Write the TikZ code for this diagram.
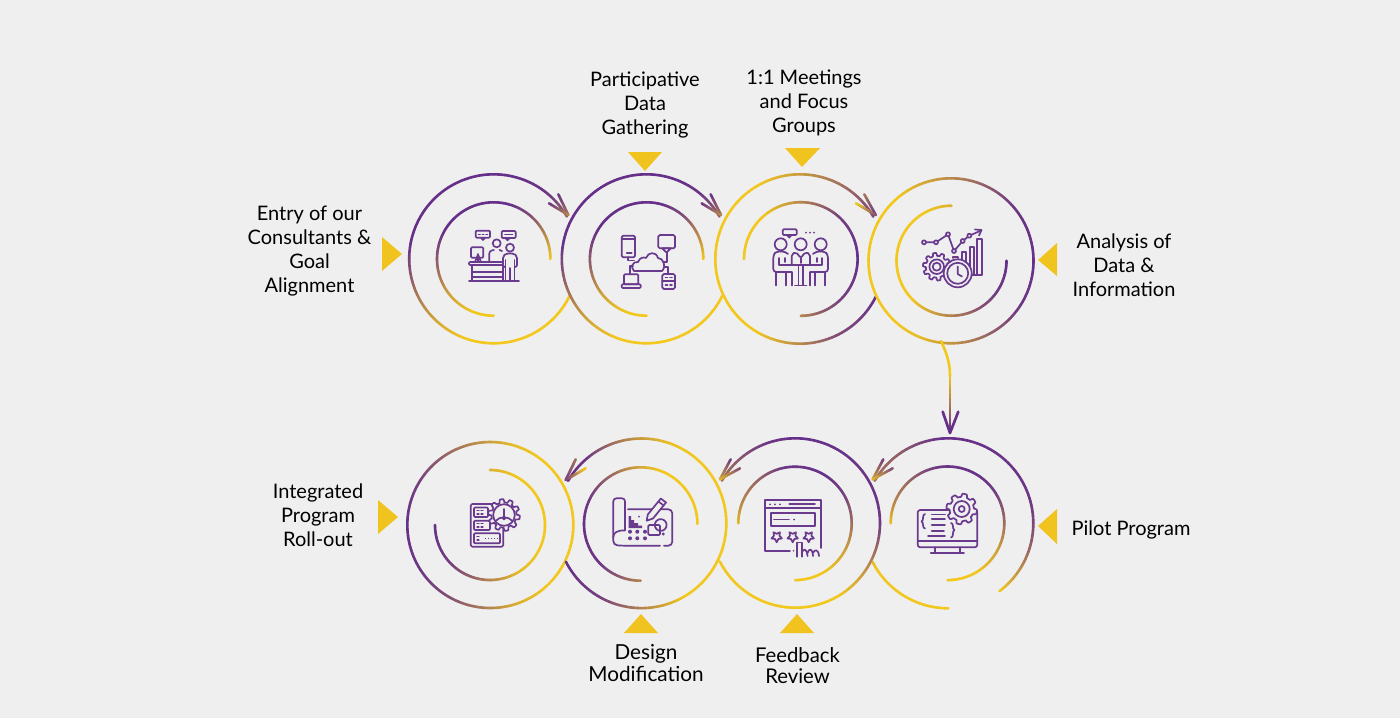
\documentclass[tikz,border=0pt]{standalone}
\usepackage{fontspec}
\setmainfont{Lato}
\definecolor{bgc}{HTML}{EFEFEF}
\definecolor{pc}{HTML}{66308A}
\definecolor{yc}{HTML}{F2C81E}
\definecolor{tric}{HTML}{F0C31E}
\definecolor{icc}{HTML}{6A3A8E}
\newcommand\arcseg[7]{%
  \pgfmathtruncatemacro\nseg{max(1,ceil(abs(#6-#4)/2.5))}%
  \foreach \k in {1,...,\nseg}{%
    \pgfmathsetmacro\aa{#4+(#6-#4)*(\k-1)/\nseg}%
    \pgfmathsetmacro\ab{#4+(#6-#4)*\k/\nseg}%
    \pgfmathsetmacro\tm{100*(#5+(#7-#5)*(\k-.5)/\nseg)}%
    \draw[ring,color=yc!\tm!pc] ({#1+#3*cos(\aa)},{#2-#3*sin(\aa)}) -- ({#1+#3*cos(\ab)},{#2-#3*sin(\ab)});
  }}
\newcommand\garc[4]{%
  \gdef\arcfirst{1}%
  \foreach \sa/\st in {#4}{%
    \ifnum\arcfirst=1\else\arcseg{#1}{#2}{#3}{\preva}{\prevt}{\sa}{\st}\fi
    \xdef\preva{\sa}\xdef\prevt{\st}\gdef\arcfirst{0}%
  }}
\newcommand\gline[6]{%
  \foreach \k in {1,...,12}{%
    \pgfmathsetmacro\tm{100*(#5+(#6-#5)*(\k-.5)/12)}%
    \draw[ring,color=yc!\tm!pc] ({#1+(#3-#1)*(\k-1)/12},{#2+(#4-#2)*(\k-1)/12}) -- ({#1+(#3-#1)*\k/12},{#2+(#4-#2)*\k/12});
  }}
\newcommand\geartooth[5]{% cx cy radius amplitude teeth
  \draw[iconl,fill=bgc] plot[domain=0:360,samples=145] ({#1+(#3+#4*max(-1,min(1,2.5*sin(#5*\x))))*cos(\x)},{#2+(#3+#4*max(-1,min(1,2.5*sin(#5*\x))))*sin(\x)}) -- cycle;}
\tikzset{
  ring/.style={line width=2.6pt,line cap=round},
  iconl/.style={draw=icc,line width=1.7pt,line join=round,line cap=round},
  iconf/.style={fill=icc},
  tri/.style={fill=tric},
  lab/.style={font=\fontsize{20}{24}\selectfont,align=center,text=black,inner sep=0pt},
}
\begin{document}
\begin{tikzpicture}[x=1pt,y=-1pt]
\fill[bgc] (0,0) rectangle (1400,718);
\useasboundingbox (0,0) rectangle (1400,718);

% ===== top row =====
% circle 1
\garc{493.7}{258.8}{84.5}{30/.35,50/.05,70/0,170/0,195/.3,225/.75,250/1,334/1}
\garc{493.7}{259}{56.7}{0/1,25/.6,50/.2,75/0,150/0,185/.3,220/.75,250/1,270/1}
\gline{568.3}{215}{558.3}{194.3}{.45}{.05}
\gline{568.3}{215}{549}{203.3}{.6}{.05}
% circle 2
\garc{646.3}{258.8}{84.5}{30/.35,50/.05,70/0,170/0,195/.3,225/.75,250/1,334/1}
\garc{646.6}{259}{56.7}{0/1,25/.6,50/.2,75/0,150/0,185/.3,220/.75,250/1,270/1}
\gline{721}{215}{710.6}{194.3}{.45}{.05}
\gline{721}{215}{701.6}{203.3}{.6}{.05}
% circle 3
\garc{800}{259}{84.7}{30/.15,60/.4,90/.7,120/1,240/1,270/.6,295/.2,334/0}
\garc{800.8}{259}{56.8}{180/1,130/1,100/.7,70/.35,45/.1,0/0,-45/.1,-70/.3,-90/.55}
\gline{875.7}{215}{864.3}{194.3}{.05}{.45}
\gline{875.7}{215}{856}{203.3}{.2}{1}
% circle 4
\garc{951}{260.8}{82.5}{180/1,130/1,110/.8,90/.6,65/.3,40/.05,0/0,-35/.05,-60/.3,-85/.6,-110/.9,-130/1,-180/1}
\garc{951.5}{260.7}{55}{90/.85,120/1,225/1,255/.7,275/.5,300/.25,330/.05,360/0}

% connector from circle 4 to circle 5
\coordinate (linkstart) at (941,341);
\coordinate (linkbend) at (950,376);
\coordinate (linktip) at (950,433);
\draw[ring,color=yc] (linkstart) .. controls (946,352) and (950,362) .. (linkbend);
\gline{950}{376}{950}{433}{1}{0}
\gline{950}{433}{942.7}{411.7}{0}{0}
\gline{950}{433}{958.3}{411.7}{0}{0}

% ===== bottom row =====
% circle 8 (left)
\garc{490.3}{525}{83}{180/0,150/.1,125/.3,100/.6,75/.9,55/1,-50/1,-75/.8,-95/.5,-120/.2,-145/.05,-180/0}
\garc{490}{525}{55}{180/0,225/.1,250/.3,270/.55,300/.9,330/1,420/1,450/.85}
% circle 7
\garc{641.5}{523.3}{84.8}{150/0,130/.05,110/.4,90/.7,70/.95,50/1,-60/1,-80/.7,-100/.4,-120/.1,-153/0}
\garc{640.7}{524}{56.7}{0/1,70/1,90/.8,120/.4,150/.1,180/0,225/.05,250/.3,270/.55}
\gline{565.7}{480}{575.7}{459.3}{.1}{.4}
\gline{565.7}{480}{585.7}{468.3}{.1}{1}
% circle 6
\garc{795.3}{523}{84.7}{150/.45,130/.25,110/.05,90/0,0/.05,-20/.4,-40/.75,-60/1,-153/1}
\garc{795}{523.4}{56.7}{180/.9,160/.6,130/.35,100/.05,60/0,30/.1,0/.4,-30/.75,-60/1,-90/1}
\gline{720}{479.3}{730.7}{459.3}{.75}{.1}
\gline{720}{479.3}{740}{468.3}{.9}{.2}
% circle 5
\garc{948.3}{523.3}{85}{150/.45,125/.3,100/.05,90/0,15/.05,0/.15,-15/.3,-30/.55,-45/.85,-53/1}
\garc{948.3}{523.3}{85}{207/.9,215/1,270/1}
\garc{947.5}{523.3}{56.8}{180/.95,160/.6,130/.35,100/.05,60/0,30/.1,0/.4,-30/.75,-60/1,-90/1}
\gline{872.7}{479.3}{883.3}{459.3}{.75}{.1}
\gline{872.7}{479.3}{892.7}{468.3}{.9}{.2}

% ===== triangles =====
\fill[tri] (382,237) -- (382,271) -- (402,254) -- cycle;
\fill[tri] (628,152) -- (662,152) -- (645,171) -- cycle;
\fill[tri] (785,148) -- (820,148) -- (802,167) -- cycle;
\fill[tri] (1057,243) -- (1057,276) -- (1038,260) -- cycle;
\fill[tri] (1057,509) -- (1057,544) -- (1038,526) -- cycle;
\fill[tri] (624,633) -- (658,633) -- (641,614) -- cycle;
\fill[tri] (780,633) -- (814,633) -- (797,614) -- cycle;
\fill[tri] (378,500) -- (378,534) -- (398,517) -- cycle;

% ===== labels =====
\node[lab] (entry) at (309.5,251) {Entry of our\\Consultants \&\\Goal\\Alignment};
\node[lab] (participative) at (645,105) {Participative\\Data\\Gathering};
\node[lab] (meetings) at (804,103) {1:1 Meetings\\and Focus\\Groups};
\node[lab] (analysis) at (1124,265) {Analysis of\\Data \&\\Information};
\node[lab] (pilot) at (1131,530) {Pilot Program};
\node[lab] (rollout) at (318,515.5) {Integrated\\Program\\Roll-out};
\node[lab,font=\fontsize{20.7}{22}\selectfont] (design) at (646,663) {Design\\Modification};
\node[lab,font=\fontsize{20.3}{21}\selectfont] (feedback) at (797.5,665.5) {Feedback\\Review};

% ===== icon 1: reception =====
\draw[iconl,rounded corners=1] (475.7,230.7) rectangle (490,237.7);
\draw[iconl] (481,237.7) -- (483,240) -- (485,237.7);
\draw[iconl,dotted,line width=1.2pt] (478.5,234.2) -- (487.5,234.2);
\draw[iconl,rounded corners=1] (501.7,231) rectangle (515.7,238);
\draw[iconl] (505.5,238) -- (507.5,240.3) -- (509.5,238);
\draw[iconl] (505,234.5) -- (512.5,234.5);
\draw[iconl] (496.7,243.3) circle (4);
\draw[iconl,rounded corners=2.5] (489.3,261) -- (489.3,251) -- (494,250) (499.5,250) -- (502,251);
\draw[iconl,rounded corners=1] (471,247.3) rectangle (483.3,257.7);
\draw[iconl] (478,254) -- (478,262) (475,262) -- (478,254.5) -- (481,262);
\draw[iconl,rounded corners=1] (469,262) rectangle (503,265);
\draw[iconl] (471.7,265) -- (471.7,280) (503,265) -- (503,280);
\draw[iconl] (472,272) -- (502,272) (472,277) -- (502,277);
\draw[iconl] (469,280.7) -- (519,280.7);
\draw[iconl] (510,247.7) circle (4);
\draw[iconl,rounded corners=2] (504.5,267) -- (503,267) -- (503,256) -- (506,253.5) -- (514,253.5) -- (517,256) -- (517,267) -- (515.5,267);
\draw[iconl] (505.5,260) -- (505.5,280) (514.5,260) -- (514.5,280) (510,268) -- (510,280);

% ===== icon 2: network =====
\draw[iconl,rounded corners=1.5] (621.7,235.7) rectangle (635,257.3);
\draw[iconl] (622,239) -- (635,239) (626.7,253) -- (631.7,253);
\draw[iconl,rounded corners=1.5] (658.3,235) rectangle (675,248.3);
\draw[iconl] (662,248.3) -- (671,248.3) -- (667,252) -- (666,252) -- cycle;
\draw[iconl] (634,271) .. controls (630,267) and (633,261) .. (638,262) .. controls (640,257) and (644,257) .. (646,258) .. controls (648,252) and (656,251) .. (658,258) .. controls (663,258) and (667,266) .. (662,271) -- cycle;
\draw[iconl,rounded corners=1] (624,274.3) rectangle (638.3,284.3);
\draw[iconl,rounded corners=1] (621.7,284.3) rectangle (640.7,288);
\draw[iconl,rounded corners=1.5] (662.3,274) rectangle (675,289);
\draw[iconl] (662.3,281.3) -- (675,281.3);
\draw[iconl] (665.5,277.5) -- (667.5,277.5) (670,277.5) -- (672,277.5) (665.5,285) -- (667.5,285) (670,285) -- (672,285);
\draw[iconl] (628.3,257.3) -- (628.3,260.5) -- (634,260.5);
\draw[iconl] (630,274.3) -- (630,266) -- (633,266);
\draw[iconl] (666.7,252) -- (666.7,262) -- (663,262);
\draw[iconl] (668.3,274) -- (668.3,266.7) -- (664,266.7);

% ===== icon 3: meeting =====
\draw[iconl,rounded corners=1] (782.7,229.3) rectangle (796.7,235);
\draw[iconl] (787,235) -- (789.3,237.5) -- (791.5,235);
\fill[iconf] (806,232.7) circle (1) (810,232.7) circle (1) (814,232.7) circle (1);
\draw[iconl] (780.7,244.3) circle (6) (800.7,244.3) circle (6) (820.7,244.3) circle (6);
\draw[iconl,rounded corners=3] (776,272) -- (773.3,272) -- (773.3,255) -- (776,251.5) -- (785,251.5) -- (788,254);
\draw[iconl,rounded corners=3] (825,272) -- (828,272) -- (828,255) -- (825,251.5) -- (816,251.5) -- (813,254);
\draw[iconl,rounded corners=2] (791.7,265) -- (791.7,254) -- (796,252) -- (800.7,258) -- (805.5,252) -- (810,254) -- (810,265);
\draw[iconl] (800.7,258) -- (800.7,263);
\draw[iconl] (779,258) -- (779,265) -- (791,265) (822,258) -- (822,265) -- (810,265) (789,265) -- (812,265);
\draw[iconl] (785,258) -- (785,262);
\draw[iconl] (817,258) -- (817,262);
\draw[iconl] (776,272) -- (791.7,272) (776,272) -- (776,285.5) (791.7,272) -- (791.7,285.5) (786,272) -- (786,285.5) ;
\draw[iconl] (810,272) -- (825,272) (810,272) -- (810,285.5) (825,272) -- (825,285.5) (815,272) -- (815,285.5);
\draw[iconl] (798.5,265) -- (798.5,285) (803,265) -- (803,285) (795,285.5) -- (806.5,285.5);

% ===== icon 4: analysis =====
\draw[iconl] (924,242.3) -- (936,242.3) -- (948,234.3) -- (954,251) -- (962.7,241) -- (969.3,235.7) -- (980.7,230.7);
\draw[iconl,fill=bgc] (924,242.3) circle (2) (936,242.3) circle (2) (948,234.3) circle (2) (954,251) circle (2) (962.7,241) circle (2) (969.3,235.7) circle (2);
\draw[iconl] (975,229.5) -- (981.5,230) -- (979,235.5);
\draw[iconl] (961.7,275) -- (961.7,252.3) -- (966,252.3) -- (966,275);
\draw[iconl] (970,275) -- (970,247.3) -- (974.3,247.3) -- (974.3,275);
\draw[iconl] (977.3,275) -- (977.3,239.3) -- (982,239.3) -- (982,275) -- (966,275);
\draw[iconl] (953.3,258) -- (953.3,256.7) -- (958.3,256.7) -- (958.3,258);
\geartooth{936.7}{266.7}{12.3}{1.5}{10}
\draw[iconl] (936.7,266.7) circle (7.3) (936.7,266.7) circle (4);
\draw[iconl,fill=bgc] (957.7,273.3) circle (14);
\draw[iconl] (957.7,273.3) circle (10.5);
\draw[iconl] (957.7,266.5) -- (957.7,274) -- (962,276.5);

% ===== icon 5: pilot =====
\draw[iconl,rounded corners=2.5] (917.7,510) rectangle (977.3,547.3);
\draw[iconl] (917.7,541) -- (977.3,541);
\draw[iconl] (935,547.3) -- (935,553.3) (960,547.3) -- (960,553.3);
\draw[iconl] (930.7,553.3) -- (964,553.3);
\geartooth{961.7}{509}{13.7}{1.6}{8}
\draw[iconl] (961.7,509) circle (8) (961.7,509) circle (3);
\draw[iconl] (925,514) .. controls (922,514) and (924,521) .. (921.5,521.5) .. controls (924,522) and (922,528.5) .. (925,528.5);
\draw[iconl] (951,523) .. controls (954,523) and (952,529.5) .. (954.5,530) .. controls (952,530.5) and (954,537.5) .. (951,537.5);
\draw[iconl] (931.7,514.5) -- (945,514.5);
\draw[iconl] (931.7,519.3) -- (945,519.3);
\draw[iconl] (931.7,525) -- (945,525);
\draw[iconl] (931.7,530.7) -- (944,530.7);
\draw[iconl] (928,535.7) -- (945,535.7);

% ===== icon 6: feedback =====
\draw[iconl] (790,550.7) -- (765,550.7) -- (765,500) -- (821,500) -- (821,548);
\draw[iconl] (765,508.3) -- (821,508.3);
\fill[iconf] (770,504.3) circle (1) (775,504.3) circle (1) (780,504.3) circle (1);
\draw[iconl] (789.3,504.3) -- (815,504.3);
\draw[iconl] (770.7,513.3) rectangle (815.3,526);
\draw[iconl] (774,519.5) -- (789,519.5);
\fill[iconf] (794,519.5) circle (1);
\foreach \sx in {776.7,792.7,808.7}{
  \draw[iconl,fill=bgc] plot[domain=0:360,samples=11] ({\sx+(5.5-2.6*(mod(round((\x+90)/36),2)))*cos(\x-90)},{536.7+(5.5-2.6*(mod(round((\x+90)/36),2)))*sin(\x-90)}) -- cycle;
}
\fill[iconf] (793.5,550.7) circle (.9);
\draw[iconl] (797.3,556.7) -- (797.3,542.5) -- (801.7,542.5) -- (801.7,556.7);
\draw[iconl] (801.7,553) .. controls (803,548) and (807,548) .. (807.5,556);
\draw[iconl] (807.5,553) .. controls (809,548) and (812.5,548) .. (813,556);
\draw[iconl] (813,553) .. controls (814.5,549) and (818.5,549) .. (819,556);

% ===== icon 7: design =====
\draw[iconl,rounded corners=3] (625,509.3) -- (625,498.3) -- (613.3,498.3) -- (613.3,537);
\draw[iconl,rounded corners=4] (628,509.3) -- (672.3,509.3) -- (672.3,545.7) -- (664,545.7) (660,545.7) -- (622,545.7) -- (613.3,545) -- (613.3,537);
\draw[iconl] (625,509.3) -- (625,530);
\draw[iconl] (625,530.5) .. controls (617,530) and (613.3,533) .. (613.3,537);
\fill[iconf] (628.5,516) rectangle (631,528) (631,520) rectangle (634,528) (634,523) rectangle (638,528) (638,525.5) rectangle (642,528);
\fill[iconf] (630,531.7) circle (2) (637.3,531.7) circle (2) (645,531.7) circle (2) (630,538.3) circle (2) (637.3,538.3) circle (2) (645,538.3) circle (2);
\fill[iconf] (639,516.5) circle (1);
\draw[iconl,fill=bgc] (646.7,520.7) -- (647.8,514.5) -- (660.8,498.5) -- (666,502.5) -- (653,518.5) -- cycle;
\draw[iconl] (658.5,501.5) -- (663.7,505.5);
\draw[iconl] (660.7,525) circle (5.9);
\draw[iconl,rounded corners=1] (648.3,525) rectangle (660,535);
\fill[iconf] (663.3,534) circle (1.6);

% ===== icon 8: server gear =====
\draw[iconl,rounded corners=1.5] (470.7,504) rectangle (503.3,546.7);
\draw[iconl,rounded corners=1] (474,507.5) rectangle (488,517);
\draw[iconl,rounded corners=1] (474,520.7) rectangle (490,530);
\draw[iconl,rounded corners=1] (474,533.3) rectangle (500,543.3);
\draw[iconl,line width=1.1pt] (477,510.5) -- (479,510.5) (477,514) -- (479,514) (481,510.5) -- (483,510.5) (481,514) -- (483,514);
\draw[iconl,line width=1.1pt] (477,523.5) -- (479,523.5) (477,527) -- (479,527) (481,523.5) -- (483,523.5) (481,527) -- (483,527);
\draw[iconl,line width=1.1pt] (477,536.5) -- (479,536.5) (477,540) -- (479,540);
\draw[iconl,line width=1.6pt,dash pattern=on 1.4pt off 1.5pt,line cap=butt] (485,538.3) -- (497,538.3);
\geartooth{504}{515}{14.2}{1.7}{10}
\draw[iconl,fill=bgc] (504,515) circle (10.8);
\draw[iconl] (504,509) -- (504,518);
\draw[iconl] (495.5,521) .. controls (500,516) and (508,516) .. (512.5,521);
\draw[iconl] (504,518) circle (1.5);
\end{tikzpicture}
\end{document}
